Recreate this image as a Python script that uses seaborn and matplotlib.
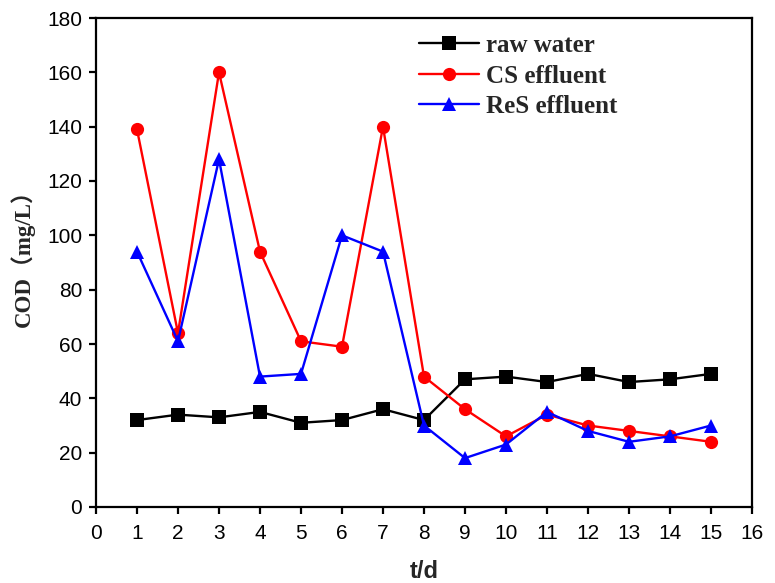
import matplotlib
matplotlib.use("Agg")
import matplotlib.pyplot as plt
import seaborn as sns
import pandas as pd

days = list(range(1, 16))
raw_water = [32, 34, 33, 35, 31, 32, 36, 32, 47, 48, 46, 49, 46, 47, 49]
cs_effluent = [139, 64, 160, 94, 61, 59, 140, 48, 36, 26, 34, 30, 28, 26, 24]
res_effluent = [94, 61, 128, 48, 49, 100, 94, 30, 18, 23, 35, 28, 24, 26, 30]
series_names = ["raw water", "CS effluent", "ReS effluent"]

sns.set_theme(style="ticks")
plt.rcParams["font.family"] = ["Liberation Sans", "DejaVu Sans"]

df = pd.DataFrame({
    "day": days * 3,
    "COD": raw_water + cs_effluent + res_effluent,
    "series": [s for s in series_names for _ in days],
})

fig = plt.figure(figsize=(7.75, 5.83), dpi=100)
ax = fig.add_axes([96 / 775, 1 - 507 / 583, (752 - 96) / 775, (507 - 18) / 583])

sns.lineplot(
    data=df, x="day", y="COD", hue="series", style="series",
    palette={"raw water": "black", "CS effluent": "red", "ReS effluent": "blue"},
    markers={"raw water": "s", "CS effluent": "o", "ReS effluent": "^"},
    dashes=False, linewidth=1.7, markersize=9.5, markeredgewidth=0,
    ax=ax,
)

ax.set_xlim(0, 16)
ax.set_ylim(0, 180)
ax.set_xticks(range(0, 17))
ax.set_yticks(range(0, 181, 20))
for side in ax.spines.values():
    side.set_linewidth(1.6)
    side.set_color("black")
ax.tick_params(axis="both", direction="out", length=5, width=1.6,
               labelsize=15, colors="black", top=False, right=False)
ax.tick_params(axis="x", pad=7)
ax.tick_params(axis="y", pad=5)

ax.set_xlabel("t/d", fontsize=17, fontweight="bold")
ax.xaxis.set_label_coords(0.5, -0.108)
ax.set_ylabel("COD（mg/L）", fontsize=16.5, fontweight="bold",
              family=["Liberation Serif", "Noto Sans CJK SC"])
ax.yaxis.set_label_coords(-0.093, 0.52)

leg = ax.legend(loc="upper left", bbox_to_anchor=(0.465, 1.003), frameon=False,
                prop={"family": "Liberation Serif", "weight": "bold", "size": 18},
                handlelength=2.4, handletextpad=0.3, labelspacing=0.3,
                borderaxespad=0.3)
for h in leg.legend_handles:
    h.set_markersize(9.5)

fig.savefig("out.png", dpi=100)
